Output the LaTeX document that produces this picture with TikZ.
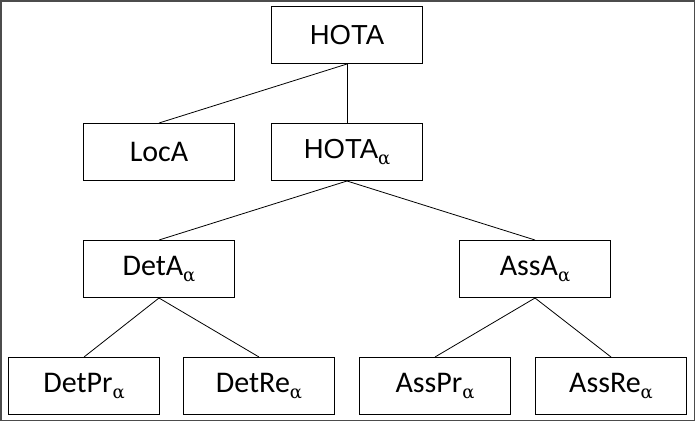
\documentclass[tikz,border=0pt]{standalone}
\usepackage{fontspec}
\setmainfont{Carlito}
\newfontfamily\arialf{Liberation Sans}
\newfontfamily\alphaf{DejaVu Serif}
\newcommand{\al}{\raisebox{-0.4ex}{\fontsize{18}{18}\selectfont\alphaf α}}
\begin{document}
\begin{tikzpicture}[x=1pt,y=-1pt,
  bx/.style={draw=black,line width=1pt,minimum width=151pt,minimum height=57pt,inner sep=0pt,anchor=north west,font=\fontsize{30}{30}\selectfont},
  ar/.style={font=\fontsize{27.5}{27.5}\selectfont\arialf},
  ln/.style={line width=0.8pt}]
\useasboundingbox (0,0) rectangle (695,421);
\draw[line width=1.5pt,draw=black!70] (0.75,0.75) rectangle (694.25,420.25);
\node[bx,ar] (hota) at (271,6) {HOTA};
\node[bx] (loca) at (83,123) {LocA};
\node[bx,ar] (hotaa) at (271,123) {HOTA\al};
\node[bx] (deta) at (83,240) {DetA\al};
\node[bx] (assa) at (459,240) {AssA\al};
\node[bx] (detpr) at (8,357) {DetPr\al};
\node[bx] (detre) at (183,357) {DetRe\al};
\node[bx] (asspr) at (359,357) {AssPr\al};
\node[bx] (assre) at (535,357) {AssRe\al};
\draw[ln] (hota.south) -- (loca.north);
\draw[ln] (hota.south) -- (hotaa.north);
\draw[ln] (hotaa.south) -- (deta.north);
\draw[ln] (hotaa.south) -- (assa.north);
\draw[ln] (deta.south) -- (detpr.north);
\draw[ln] (deta.south) -- (detre.north);
\draw[ln] (assa.south) -- (asspr.north);
\draw[ln] (assa.south) -- (assre.north);
\end{tikzpicture}
\end{document}
